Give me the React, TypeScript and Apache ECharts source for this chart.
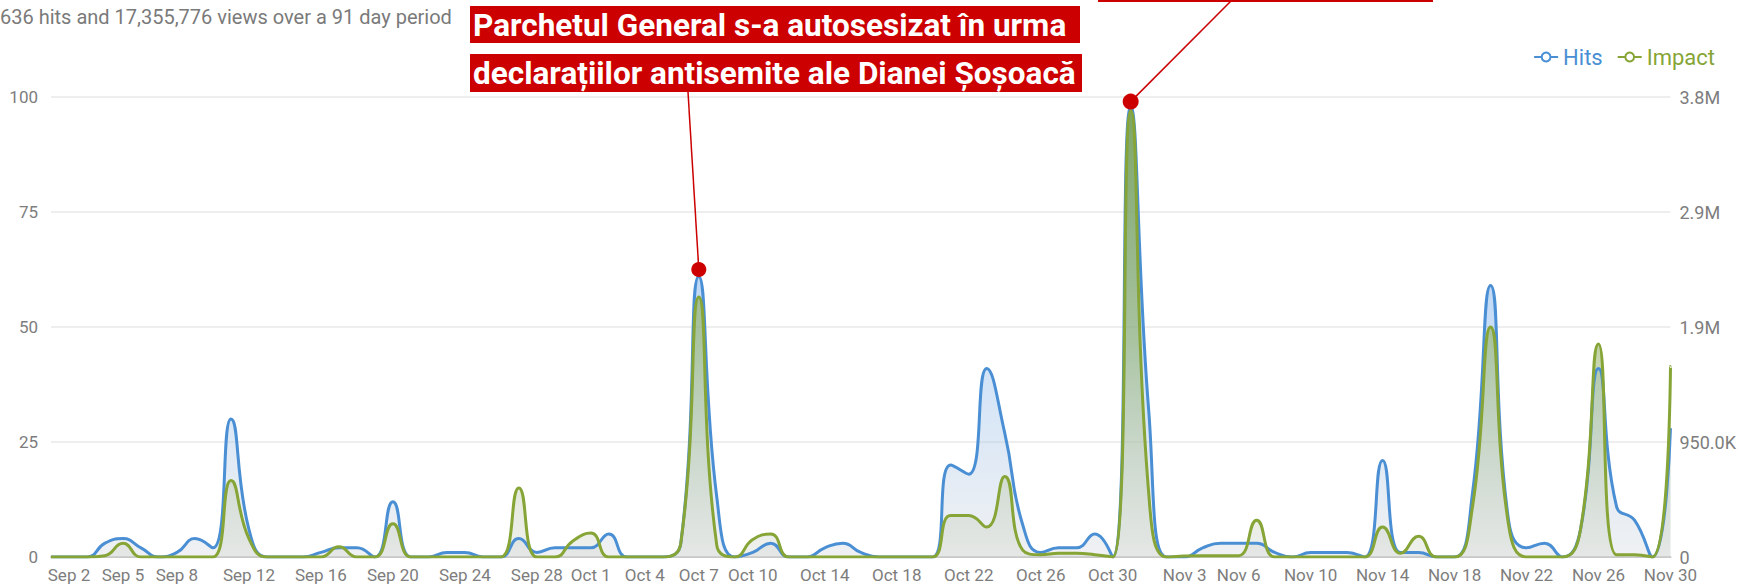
import React, { useEffect, useRef } from 'react';
import * as echarts from 'echarts';

const categories = [
  'Sep 1','Sep 2','Sep 3','Sep 4','Sep 5','Sep 6','Sep 7','Sep 8','Sep 9','Sep 10',
  'Sep 11','Sep 12','Sep 13','Sep 14','Sep 15','Sep 16','Sep 17','Sep 18','Sep 19','Sep 20',
  'Sep 21','Sep 22','Sep 23','Sep 24','Sep 25','Sep 26','Sep 27','Sep 28','Sep 29','Sep 30',
  'Oct 1','Oct 2','Oct 3','Oct 4','Oct 5','Oct 6','Oct 7','Oct 8','Oct 9','Oct 10',
  'Oct 11','Oct 12','Oct 13','Oct 14','Oct 15','Oct 16','Oct 17','Oct 18','Oct 19','Oct 20',
  'Oct 21','Oct 22','Oct 23','Oct 24','Oct 25','Oct 26','Oct 27','Oct 28','Oct 29','Oct 30',
  'Oct 31','Nov 1','Nov 2','Nov 3','Nov 4','Nov 5','Nov 6','Nov 7','Nov 8','Nov 9',
  'Nov 10','Nov 11','Nov 12','Nov 13','Nov 14','Nov 15','Nov 16','Nov 17','Nov 18','Nov 19',
  'Nov 20','Nov 21','Nov 22','Nov 23','Nov 24','Nov 25','Nov 26','Nov 27','Nov 28','Nov 29',
  'Nov 30'
];

const xTickLabels = [
  'Sep 2','Sep 5','Sep 8','Sep 12','Sep 16','Sep 20','Sep 24','Sep 28',
  'Oct 1','Oct 4','Oct 7','Oct 10','Oct 14','Oct 18','Oct 22','Oct 26','Oct 30',
  'Nov 3','Nov 6','Nov 10','Nov 14','Nov 18','Nov 22','Nov 26','Nov 30'
];

const hits = [
  0, 0, 0, 3, 4, 2, 0, 1, 4, 2,
  30, 6, 0, 0, 0, 1, 2, 2, 0, 12,
  0, 0, 1, 1, 0, 0, 4, 1, 2, 2,
  2, 5, 0, 0, 0, 3, 61, 13, 0, 1,
  3, 0, 0, 2, 3, 1, 0, 0, 0, 0,
  20, 18, 41, 27, 7, 1, 2, 2, 5, 0,
  98, 32, 0, 0, 2, 3, 3, 3, 1, 0,
  1, 1, 1, 0, 21, 1, 1, 0, 0, 14,
  59, 8, 2, 3, 0, 6, 41, 11, 8, 0,
  28
];

const impact = [
  0, 0, 0, 11000, 114000, 0, 0, 0, 0, 0,
  631000, 152000, 0, 0, 0, 0, 84000, 0, 0, 274000,
  0, 0, 0, 0, 0, 0, 570000, 0, 0, 133000,
  198000, 0, 0, 0, 0, 114000, 2147000, 95000, 0, 144000,
  190000, 0, 0, 0, 0, 0, 0, 0, 0, 0,
  342000, 342000, 247000, 665000, 57000, 19000, 30000, 30000, 19000, 0,
  3686000, 532000, 0, 8000, 11000, 11000, 11000, 304000, 0, 0,
  0, 0, 0, 0, 247000, 30000, 171000, 0, 0, 418000,
  1900000, 266000, 0, 0, 0, 228000, 1759000, 19000, 19000, 0,
  1573000
];

const leftTicks = [0, 25, 50, 75, 100];
const rightTickLabels = ['0', '950.0K', '1.9M', '2.9M', '3.8M'];
const rightMax = 3800000;
const rightInterval = 950000;

const subtitle = '636 hits and 17,355,776 views over a 91 day period';
const annotationLines = [
  'Parchetul General s-a autosesizat în urma ',
  'declarațiilor antisemite ale Dianei Șoșoacă'
];
const annotationDates = ['Oct 7', 'Oct 31'];
const annotationValues = [62.5, 99];

const BLUE = '#4a8fd4';
const GREEN = '#86a536';
const RED = '#cc0000';
const FONT = 'Roboto';

export default function App() {
  const ref = useRef<HTMLDivElement>(null);

  useEffect(() => {
    if (!ref.current) return;
    const chart = echarts.init(ref.current, null, { renderer: 'svg' });
    const option: any = {
      animation: false,
      textStyle: { fontFamily: FONT },
      grid: { left: 51, right: 67, top: 97, bottom: 27, containLabel: false },
      legend: {
        right: 19,
        top: 41,
        itemWidth: 24,
        itemHeight: 11,
        itemGap: 14,
        textStyle: { fontSize: 22, fontFamily: FONT },
        data: [
          { name: 'Hits', textStyle: { color: BLUE } },
          { name: 'Impact', textStyle: { color: GREEN } }
        ]
      },
      xAxis: {
        type: 'category',
        data: categories,
        boundaryGap: false,
        axisLine: { lineStyle: { color: '#c8c8c8', width: 2 } },
        axisTick: { show: false },
        axisLabel: {
          interval: (_i: number, v: string) => xTickLabels.includes(v),
          showMinLabel: true,
          showMaxLabel: true,
          color: '#7d7d7d',
          fontSize: 17,
          margin: 9,
          fontFamily: FONT
        },
        splitLine: { show: false }
      },
      yAxis: [
        {
          type: 'value',
          min: leftTicks[0],
          max: leftTicks[leftTicks.length - 1],
          interval: 25,
          axisLine: { show: false },
          axisTick: { show: false },
          axisLabel: { color: '#7d7d7d', fontSize: 17, margin: 13, fontFamily: FONT, showMinLabel: true },
          splitLine: { lineStyle: { color: '#e8e8e8', width: 1.5 } }
        },
        {
          type: 'value',
          position: 'right',
          min: 0,
          max: rightMax,
          interval: rightInterval,
          axisLine: { show: false },
          axisTick: { show: false },
          axisLabel: {
            color: '#7d7d7d',
            fontSize: 18,
            margin: 9,
            fontFamily: FONT,
            showMinLabel: true,
            formatter: (v: number) => rightTickLabels[Math.round(v / rightInterval)] ?? ''
          },
          splitLine: { show: false }
        }
      ],
      series: [
        {
          name: 'Hits',
          type: 'line',
          data: hits,
          smooth: 0.5,
          showSymbol: false,
          symbol: 'emptyCircle',
          symbolSize: 8,
          lineStyle: { color: BLUE, width: 3 },
          itemStyle: { color: BLUE },
          areaStyle: {
            color: new echarts.graphic.LinearGradient(0, 0, 0, 1, [
              { offset: 0, color: 'rgba(74,144,226,0.85)' },
              { offset: 0.6, color: 'rgba(140,185,235,0.55)' },
              { offset: 1, color: 'rgba(210,214,220,0.5)' }
            ])
          }
        },
        {
          name: 'Impact',
          type: 'line',
          yAxisIndex: 1,
          data: impact,
          smooth: 0.5,
          showSymbol: false,
          symbol: 'emptyCircle',
          symbolSize: 8,
          lineStyle: { color: GREEN, width: 3 },
          itemStyle: { color: GREEN },
          areaStyle: {
            color: new echarts.graphic.LinearGradient(0, 0, 0, 1, [
              { offset: 0, color: 'rgba(115,155,45,1)' },
              { offset: 0.5, color: 'rgba(140,172,90,0.8)' },
              { offset: 1, color: 'rgba(210,214,205,0.5)' }
            ])
          }
        }
      ]
    };
    chart.setOption(option);

    const pts = annotationDates.map((d, k) =>
      chart.convertToPixel({ xAxisIndex: 0, yAxisIndex: 0 }, [d, annotationValues[k]]) as number[]
    );

    const elements: any[] = [
      {
        type: 'text',
        left: 0,
        top: 7,
        style: { text: subtitle, fill: '#7a7a7a', font: `20px ${FONT}` }
      },
      {
        type: 'rect',
        shape: { x: 470, y: 6, width: 610, height: 37 },
        style: { fill: RED },
        z: 100
      },
      {
        type: 'rect',
        shape: { x: 470, y: 54, width: 612, height: 38 },
        style: { fill: RED },
        z: 100
      },
      {
        type: 'text',
        x: 473,
        y: 25,
        style: { text: annotationLines[0], fill: '#ffffff', font: `bold 31.5px ${FONT}`, verticalAlign: 'middle', align: 'left' },
        z: 101
      },
      {
        type: 'text',
        x: 473,
        y: 73,
        style: { text: annotationLines[1], fill: '#ffffff', font: `bold 31.5px ${FONT}`, verticalAlign: 'middle', align: 'left' },
        z: 101
      },
      {
        type: 'rect',
        shape: { x: 1098, y: -40, width: 335, height: 42 },
        style: { fill: RED },
        z: 100
      },
      {
        type: 'line',
        shape: { x1: 688, y1: 92, x2: pts[0][0], y2: pts[0][1] },
        style: { stroke: RED, lineWidth: 1.5 },
        z: 100
      },
      {
        type: 'line',
        shape: { x1: 1232, y1: 0, x2: pts[1][0], y2: pts[1][1] },
        style: { stroke: RED, lineWidth: 1.5 },
        z: 100
      },
      {
        type: 'circle',
        shape: { cx: pts[0][0], cy: pts[0][1], r: 7.5 },
        style: { fill: RED },
        z: 101
      },
      {
        type: 'circle',
        shape: { cx: pts[1][0], cy: pts[1][1], r: 8 },
        style: { fill: RED },
        z: 101
      }
    ];
    chart.setOption({ graphic: { elements } });

    return () => chart.dispose();
  }, []);

  return (
    <div
      ref={ref}
      style={{ position: 'fixed', left: 0, top: 0, width: 1739, height: 584, background: '#ffffff' }}
    />
  );
}
